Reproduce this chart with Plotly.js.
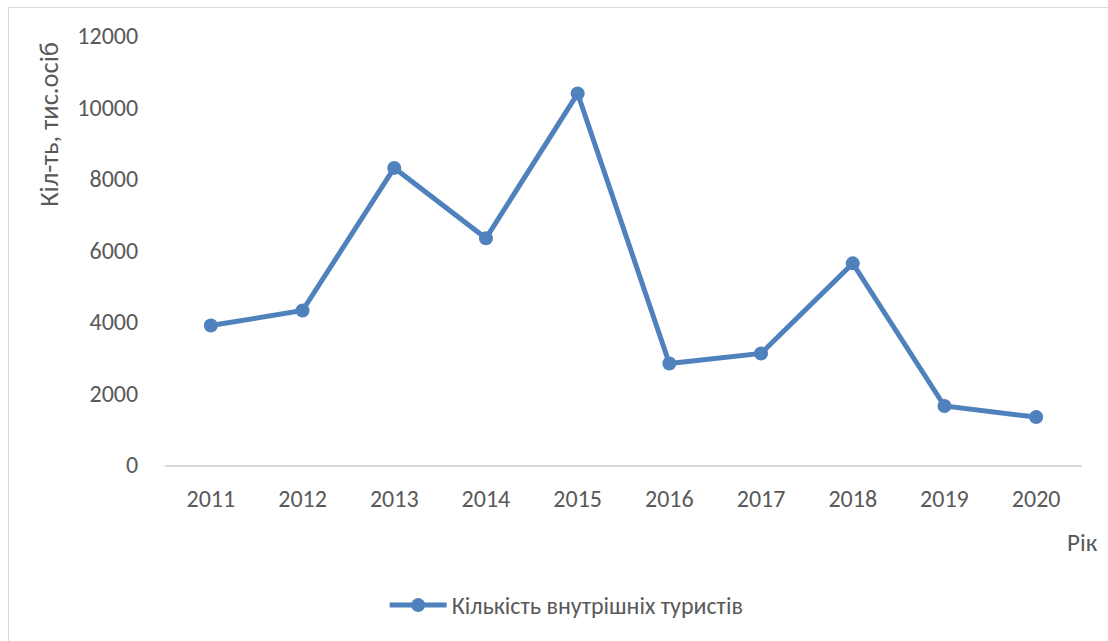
<!DOCTYPE html>
<html>
<head>
<meta charset="utf-8">
<script src="https://cdn.plot.ly/plotly-3.0.1.min.js"></script>
<style>
  html, body { margin: 0; padding: 0; background: #fff; overflow: hidden; }
  #frame { position: absolute; left: 8px; top: 7px; width: 1200px; height: 700px; border: 1px solid #d9d9d9; box-sizing: border-box; pointer-events: none; }
  #chart { position: absolute; left: 0; top: 0; width: 1108px; height: 641px; }
</style>
</head>
<body>
<div id="frame"></div>
<div id="chart"></div>
<script>
const years = ['2011', '2012', '2013', '2014', '2015', '2016', '2017', '2018', '2019', '2020'];
const tourists = [3900, 4320, 8310, 6340, 10390, 2840, 3120, 5640, 1650, 1340];
const seriesName = 'Кількість внутрішніх туристів';
const yTickVals = [0, 2000, 4000, 6000, 8000, 10000, 12000];
const yTitle = 'Кіл-ть, тис.осіб';
const xTitle = 'Рік';

const FONT = 'Carlito, "Liberation Sans Narrow", "Liberation Sans", Arial, sans-serif';
const blue = '#4f81bd';

const trace = {
  x: years,
  y: tourists,
  type: 'scatter',
  mode: 'lines+markers',
  name: seriesName,
  line: { color: blue, width: 5 },
  marker: { color: blue, size: 14 }
};

const layout = {
  width: 1108,
  height: 641,
  margin: { l: 165, r: 26, t: 36, b: 176 },
  paper_bgcolor: 'rgba(0,0,0,0)',
  plot_bgcolor: '#fff',
  font: { family: FONT, color: '#595959', size: 24 },
  showlegend: true,
  legend: {
    orientation: 'h',
    x: 0.438, xanchor: 'center',
    y: -0.275, yanchor: 'top',
    itemwidth: 57,
    font: { family: FONT, size: 24, color: '#595959' }
  },
  xaxis: {
    type: 'category',
    range: [-0.5, 9.5],
    autorange: false,
    showgrid: false,
    zeroline: false,
    showline: true,
    linecolor: '#d9d9d9',
    linewidth: 1.5,
    ticks: 'outside',
    ticklen: 12,
    tickcolor: 'rgba(0,0,0,0)',
    tickfont: { family: FONT, size: 24, color: '#595959' }
  },
  yaxis: {
    range: [0, 12000],
    autorange: false,
    tickvals: yTickVals,
    ticktext: yTickVals.map(String),
    showgrid: false,
    zeroline: false,
    showline: false,
    ticks: 'outside',
    ticklen: 21,
    tickcolor: 'rgba(0,0,0,0)',
    tickfont: { family: FONT, size: 24, color: '#595959' }
  },
  annotations: [
    {
      text: yTitle,
      xref: 'paper', yref: 'paper',
      x: -0.126, y: 0.794,
      xanchor: 'center', yanchor: 'middle',
      textangle: -90,
      showarrow: false,
      font: { family: FONT, size: 26.5, color: '#595959' }
    },
    {
      text: xTitle,
      xref: 'paper', yref: 'paper',
      x: 1.02, y: -0.18,
      xanchor: 'right', yanchor: 'middle',
      showarrow: false,
      font: { family: FONT, size: 25, color: '#595959' }
    }
  ]
};

Plotly.newPlot('chart', [trace], layout, { displayModeBar: false, staticPlot: true });
</script>
</body>
</html>
